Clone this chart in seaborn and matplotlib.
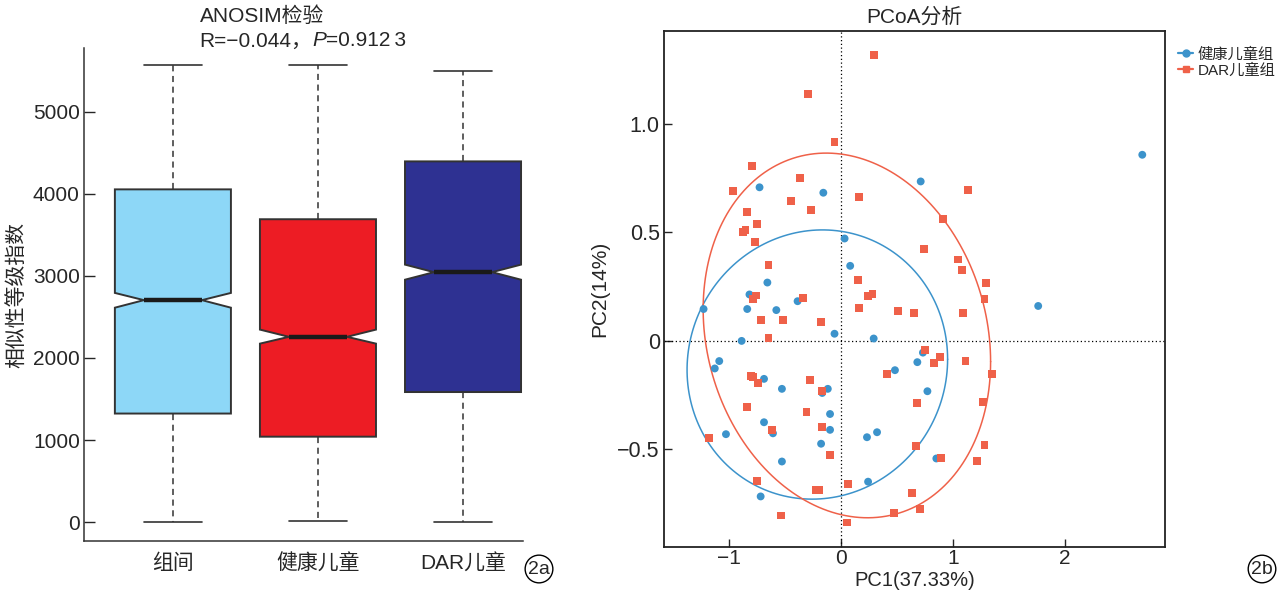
import numpy as np
import pandas as pd
import matplotlib
matplotlib.use("Agg")
import matplotlib.pyplot as plt
from matplotlib.lines import Line2D
import seaborn as sns

sns.set_style("ticks")
plt.rcParams["font.family"] = ["Liberation Sans", "Noto Sans CJK SC"]
plt.rcParams["axes.unicode_minus"] = True

# ---- panel a: ANOSIM notched boxes (summary stats) ----
groups = ["组间", "健康儿童", "DAR儿童"]
box_colors = ["#8DD7F7", "#ED1C24", "#2E3192"]
whislo = [0, 10, 0]
q1 = [1323, 1041, 1585]
med = [2705, 2258, 3046]
q3 = [4055, 3691, 4396]
whishi = [5567, 5567, 5493]
cilo = [2613, 2175, 2954]
cihi = [2793, 2346, 3138]

# ---- panel b: PCoA coordinates ----
healthy_pc1 = [2.69, 0.71, -0.16, -0.73, 0.03, 0.08, -0.66, -0.82, -1.23, -0.84,
               -0.58, -0.39, 1.76, -0.06, -0.89, 0.29, -1.09, -1.13, -0.69, -0.53,
               -0.12, -0.17, 0.48, 0.68, 0.73, 0.77, -0.10, -0.10, -0.69, -0.61,
               -1.03, -0.18, 0.23, 0.32, -0.53, 0.85, 0.24, -0.72]
healthy_pc2 = [0.858, 0.735, 0.683, 0.708, 0.472, 0.346, 0.269, 0.214, 0.147, 0.147,
               0.142, 0.183, 0.161, 0.033, 0.0, 0.011, -0.093, -0.127, -0.175, -0.221,
               -0.221, -0.240, -0.135, -0.098, -0.054, -0.232, -0.337, -0.410, -0.375, -0.426,
               -0.430, -0.474, -0.444, -0.421, -0.556, -0.542, -0.649, -0.717]
dar_pc1 = [0.29, -0.30, -0.06, -0.80, -0.97, -0.37, -0.45, -0.27, 0.16, 1.13,
           -0.84, -0.855, -0.874, -0.75, -0.77, 0.91, 0.74, 1.04, 1.08, 1.29,
           -0.65, 0.15, 0.28, 0.24, 1.28, -0.76, -0.79, -0.34, 0.16, 0.51,
           0.65, 1.09, -0.72, -0.52, -0.18, -0.65, 0.75, 0.88, 0.83, 1.11,
           1.35, 0.41, -0.81, -0.79, -0.74, -0.28, -0.17, -0.84, -0.31, 0.68,
           1.27, -0.17, -0.62, -1.18, -0.10, 0.67, 1.28, 0.89, 1.21, -0.75,
           0.06, -0.23, -0.20, 0.63, 0.47, 0.70, -0.54, 0.05]
dar_pc2 = [1.317, 1.137, 0.918, 0.805, 0.691, 0.752, 0.645, 0.603, 0.662, 0.694,
           0.595, 0.512, 0.503, 0.540, 0.455, 0.563, 0.425, 0.375, 0.328, 0.268,
           0.349, 0.282, 0.215, 0.205, 0.193, 0.209, 0.193, 0.197, 0.150, 0.139,
           0.127, 0.128, 0.096, 0.096, 0.088, 0.015, -0.040, -0.074, -0.100, -0.091,
           -0.153, -0.153, -0.163, -0.167, -0.195, -0.181, -0.231, -0.305, -0.328, -0.286,
           -0.282, -0.395, -0.412, -0.446, -0.525, -0.486, -0.481, -0.539, -0.554, -0.647,
           -0.659, -0.689, -0.689, -0.700, -0.794, -0.774, -0.805, -0.837]
group_names = ["健康儿童组", "DAR儿童组"]
group_colors = ["#3C93CB", "#EF6149"]


def cov_trob(xy, nu=5, iters=200):
    # multivariate-t robust location/scatter (like MASS::cov.trob)
    n, p = xy.shape
    w = np.ones(n)
    for _ in range(iters):
        loc = (w[:, None] * xy).sum(0) / w.sum()
        d = xy - loc
        cov = (w[:, None] * d).T @ d / n
        q = np.einsum("ij,jk,ik->i", d, np.linalg.inv(cov), d)
        w_new = (nu + p) / (nu + q)
        if np.allclose(w, w_new, atol=1e-8):
            break
        w = w_new
    return loc, cov


def ellipse_xy(xy, level=0.80, seg=200):
    n = len(xy)
    loc, cov = cov_trob(xy)
    d2 = n - 1
    f = d2 / 2 * ((1 - level) ** (-2 / d2) - 1)   # qf(level, 2, n-1)
    r = np.sqrt(2 * f)
    t = np.linspace(0, 2 * np.pi, seg)
    circ = np.column_stack([np.cos(t), np.sin(t)])
    chol = np.linalg.cholesky(cov).T
    return loc + r * circ @ chol


fig = plt.figure(figsize=(12.88, 5.95), dpi=100)

# ---------------- panel a ----------------
ax1 = fig.add_axes([0.0652, 0.0908, 0.3408, 0.828])
stats = []
for i in range(len(groups)):
    stats.append(dict(med=med[i], q1=q1[i], q3=q3[i], whislo=whislo[i],
                      whishi=whishi[i], cilo=cilo[i], cihi=cihi[i], fliers=[]))
bp = ax1.bxp(stats, positions=[1, 2, 3], widths=0.8, capwidths=0.4,
             shownotches=True, patch_artist=True, showfliers=False,
             boxprops=dict(edgecolor="#333333", linewidth=1.4),
             whiskerprops=dict(color="#333333", linewidth=1.1, linestyle=(0, (4, 3))),
             capprops=dict(color="#333333", linewidth=1.2),
             medianprops=dict(color="#1a1a1a", linewidth=3.2))
for patch, c in zip(bp["boxes"], box_colors):
    patch.set_facecolor(c)
ax1.set_xlim(0.387, 3.413)
ax1.set_ylim(-230, 5774)
ax1.set_xticks([1, 2, 3])
ax1.set_xticklabels(groups, fontsize=15)
ax1.set_yticks([0, 1000, 2000, 3000, 4000, 5000])
ax1.set_yticklabels(["0", "1000", "2000", "3000", "4000", "5000"], fontsize=15)
ax1.tick_params(axis="x", length=0, pad=9)
ax1.tick_params(axis="y", length=8, width=1, direction="in", pad=3)
ax1.set_ylabel("相似性等级指数", fontsize=15)
ax1.yaxis.set_label_coords(-0.132, 0.5)
for s in ["top", "right"]:
    ax1.spines[s].set_visible(False)
for s in ["left", "bottom"]:
    ax1.spines[s].set_linewidth(1.1)
    ax1.spines[s].set_color("#333333")

# title with italic P
fig.text(0.155, 1 - 16 / 595, "ANOSIM检验", fontsize=15, va="center", ha="left")
t1 = fig.text(0.155, 1 - 41 / 595, "R=−0.044，", fontsize=15, va="center", ha="left")
fig.canvas.draw()
r = fig.canvas.get_renderer()
bb = t1.get_window_extent(r).transformed(fig.transFigure.inverted())
t2 = fig.text(bb.x1, 1 - 41 / 595, "P", fontsize=15, va="center", ha="left", style="italic")
bb2 = t2.get_window_extent(r).transformed(fig.transFigure.inverted())
fig.text(bb2.x1, 1 - 41 / 595, "=0.912\u20093", fontsize=15, va="center", ha="left")

# ---------------- panel b ----------------
fam = ["Liberation Sans", "Noto Sans CJK SC"]
ax2 = fig.add_axes([0.5155, 0.0807, 0.389, 0.867])
df = pd.DataFrame({
    "PC1": healthy_pc1 + dar_pc1,
    "PC2": healthy_pc2 + dar_pc2,
    "group": [group_names[0]] * len(healthy_pc1) + [group_names[1]] * len(dar_pc1),
})
ax2.axhline(0, color="black", lw=0.9, ls=(0, (1, 2)), zorder=1)
ax2.axvline(0, color="black", lw=0.9, ls=(0, (1, 2)), zorder=1)
sns.scatterplot(data=df, x="PC1", y="PC2", hue="group", style="group",
                hue_order=group_names, style_order=group_names,
                palette=group_colors, markers=["o", "s"], s=32, linewidth=0,
                legend=False, ax=ax2, zorder=3)
for name, c in zip(group_names, group_colors):
    sub = df[df["group"] == name][["PC1", "PC2"]].to_numpy()
    e = ellipse_xy(sub)
    ax2.plot(e[:, 0], e[:, 1], color=c, lw=1.1, zorder=2)

ax2.set_xlim(-1.584, 2.893)
ax2.set_ylim(-0.95, 1.428)
ax2.set_xticks([-1, 0, 1, 2])
ax2.set_xticklabels(["−1", "0", "1", "2"], fontsize=15, family=fam)
ax2.set_yticks([-0.5, 0, 0.5, 1.0])
ax2.set_yticklabels(["−0.5", "0", "0.5", "1.0"], fontsize=15.5, family=fam)
ax2.tick_params(axis="y", length=6, width=1, direction="in", pad=3)
ax2.tick_params(axis="x", length=6, width=1, direction="in", pad=1.5)
ax2.set_xlabel("PC1(37.33%)", fontsize=14.5, family=fam)
ax2.set_ylabel("PC2(14%)", fontsize=15, family=fam)
ax2.xaxis.set_label_coords(0.5, -0.047)
ax2.yaxis.set_label_coords(-0.110, 0.5)
ax2.set_title("PCoA分析", fontsize=15, family=fam, pad=6)
for s in ax2.spines.values():
    s.set_linewidth(1.3)
    s.set_color("#222222")

handles = [Line2D([0], [0], color=group_colors[0], marker="o", lw=1.6, markersize=5),
           Line2D([0], [0], color=group_colors[1], marker="s", lw=1.6, markersize=5)]
fig.legend(handles, group_names, loc="upper left", bbox_to_anchor=(1178 / 1288, 1 - 47 / 595),
           frameon=False, handlelength=1.0, handletextpad=0.3, labelspacing=0.12,
           borderaxespad=0, borderpad=0, prop=dict(family=fam, size=11))

# circled panel tags
for x, tag in [(539 / 1288, "2a"), (1262 / 1288, "2b")]:
    fig.text(x, 1 - 569 / 595, tag, fontsize=14, ha="center", va="center",
             bbox=dict(boxstyle="circle,pad=0.15", fc="none", ec="black", lw=1))

fig.savefig("out.png", dpi=100)
